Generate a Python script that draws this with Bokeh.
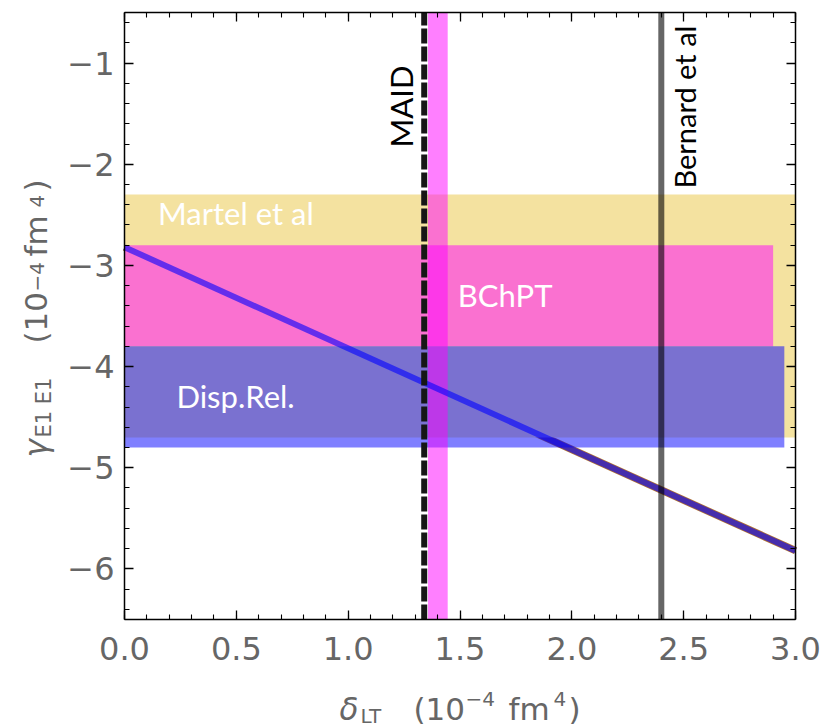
import math
from bokeh.plotting import figure
from bokeh.models import (Label, LinearAxis, SingleIntervalTicker,
                          NumeralTickFormatter, CustomJSTickFormatter)
from bokeh.embed import file_html
from bokeh.resources import INLINE

# ---------------- data ----------------
x_lo, x_hi = 0.0, 3.0
y_lo, y_hi = -6.5, -0.5

band_names = ["Martel et al", "BChPT", "Disp.Rel."]
band_left = [0.0, 0.0, 0.0]
band_right = [3.0, 2.9, 2.95]
band_bottom = [-4.7, -3.8, -4.8]
band_top = [-2.3, -2.8, -3.8]
band_colors = ["#F4E2A0", "#FF00FF", "#0000FF"]
band_alphas = [1.0, 0.5, 0.5]

maid_value = 1.34
maid_band_lo = 1.357
maid_band_hi = 1.445
bernard_value = 2.40

line_x = [0.0, 3.0]
line_y = [-2.82, -5.82]

# ---------------- layout geometry (canvas pixels) ----------------
W, H = 827, 728
BOX_L, BOX_R, BOX_T, BOX_B = 124, 795, 12, 619
sx_per = (x_hi - x_lo) / (BOX_R - BOX_L)
sy_per = (y_hi - y_lo) / (BOX_B - BOX_T)
xr = (x_lo - BOX_L * sx_per, x_hi + (W - BOX_R) * sx_per)
yr = (y_lo - (H - BOX_B) * sy_per, y_hi + BOX_T * sy_per)

p = figure(width=W, height=H, x_range=xr, y_range=yr, title=None,
           output_backend="svg", toolbar_location=None,
           min_border=0, min_border_left=0, min_border_right=0,
           min_border_top=0, min_border_bottom=0,
           background_fill_color="white", border_fill_color="white")
p.grid.visible = False
p.outline_line_color = None

tick_font = "DejaVu Sans"
tick_color = "#666666"

def style_axis(ax, labels=True):
    ax.axis_line_color = "black"
    ax.axis_line_width = 1.5
    ax.major_tick_in = 9
    ax.major_tick_out = 0
    ax.minor_tick_in = 5
    ax.minor_tick_out = 0
    ax.major_tick_line_color = "black"
    ax.minor_tick_line_color = "black"
    ax.major_tick_line_width = 1.3
    ax.minor_tick_line_width = 1.1
    if labels:
        ax.major_label_text_font = tick_font
        ax.major_label_text_font_size = "32px"
        ax.major_label_text_color = tick_color
    else:
        ax.formatter = CustomJSTickFormatter(code="return '';")
        ax.major_label_text_font_size = "2px"
        ax.major_label_standoff = 0

xax = p.xaxis[0]
yax = p.yaxis[0]
xax.ticker = SingleIntervalTicker(interval=0.5, num_minor_ticks=5)
yax.ticker = SingleIntervalTicker(interval=1.0, num_minor_ticks=5)
xax.formatter = NumeralTickFormatter(format="0.0")
yax.formatter = CustomJSTickFormatter(
    code="return tick < 0 ? '\u2212' + Math.abs(tick).toFixed(0) : tick.toFixed(0);")
style_axis(xax)
style_axis(yax)
xax.major_label_standoff = 17
yax.major_label_standoff = 10
xax.fixed_location = y_lo
xax.bounds = (x_lo, x_hi)
yax.fixed_location = x_lo
yax.bounds = (y_lo, y_hi)

top_ax = LinearAxis(ticker=SingleIntervalTicker(interval=0.5, num_minor_ticks=5),
                    fixed_location=y_hi, bounds=(x_lo, x_hi))
style_axis(top_ax, labels=False)
p.add_layout(top_ax, "above")
right_ax = LinearAxis(ticker=SingleIntervalTicker(interval=1.0, num_minor_ticks=5),
                      fixed_location=x_hi, bounds=(y_lo, y_hi))
style_axis(right_ax, labels=False)
p.add_layout(right_ax, "right")

# ---------------- marks ----------------
# orange under-line (visible as thin edge)
p.line(line_x, line_y, line_color="#B07030", line_width=7.5)

for i in range(len(band_names)):
    p.quad(left=[band_left[i]], right=[band_right[i]],
           bottom=[band_bottom[i]], top=[band_top[i]],
           fill_color=band_colors[i], fill_alpha=band_alphas[i], line_alpha=0)

# MAID magenta band
p.quad(left=[maid_band_lo], right=[maid_band_hi], bottom=[y_lo], top=[y_hi],
       fill_color="#FF00FF", fill_alpha=0.5, line_alpha=0)

# main line
p.line(line_x, line_y, line_color="#0000FF", line_alpha=0.6, line_width=6)

# vertical reference lines
p.segment(x0=[maid_value], y0=[y_lo], x1=[maid_value], y1=[y_hi],
          line_color="#161616", line_width=6, line_dash="15 3")
p.segment(x0=[bernard_value], y0=[y_lo], x1=[bernard_value], y1=[y_hi],
          line_color="black", line_alpha=0.6, line_width=6)

# ---------------- text in plot ----------------
lab_font = "Lato"
p.add_layout(Label(x=0.15, y=-2.67, text=band_names[0], text_color="white",
                   text_font=lab_font, text_font_size="31px"))
p.add_layout(Label(x=1.49, y=-3.48, text=band_names[1], text_color="white",
                   text_font=lab_font, text_font_size="31px"))
p.add_layout(Label(x=0.232, y=-4.48, text=band_names[2], text_color="white",
                   text_font=lab_font, text_font_size="31px"))
p.add_layout(Label(x=1.322, y=-1.835, text="MAID", angle=math.pi / 2,
                   text_color="black", text_font=lab_font, text_font_size="31px"))
p.add_layout(Label(x=2.58, y=-2.24, text="Bernard et al", angle=math.pi / 2,
                   text_color="black", text_font=lab_font, text_font_size="29px"))

# ---------------- axis titles (composed) ----------------
# frame covers the whole canvas: screen units from canvas bottom-left.
# (px, py) = canvas pixel of the text box's bottom-left corner
def piece(txt, px, py, size, italic=False, angle=0.0):
    p.add_layout(Label(x=px, y=H - py, x_units="screen", y_units="screen",
                       text=txt, angle=angle, text_font=tick_font,
                       text_font_size=size, text_color=tick_color,
                       text_font_style="italic" if italic else "normal",
                       text_baseline="bottom", text_align="left"))

# x title: delta_LT (10^-4 fm^4)
piece("\u03b4", 339, 726, "31px", italic=True)
piece("LT", 360, 727, "20px")
piece("(10", 413, 726, "31px")
piece("\u22124", 465, 705, "20px")
piece("fm", 508, 726, "31px")
piece("4", 553, 705, "20px")
piece(")", 568, 726, "31px")

# y title: gamma_E1E1 (10^-4 fm^4), reading upwards
a = math.pi / 2
piece("\u03b3", 53, 457, "31px", italic=True, angle=a)
piece("E1 E1", 55, 437, "21px", angle=a)
piece("(10", 53, 343, "31px", angle=a)
piece("\u22124", 43, 291, "20px", angle=a)
piece("fm", 53, 256, "31px", angle=a)
piece("4", 43, 207, "20px", angle=a)
piece(")", 53, 191, "31px", angle=a)

open("out.html", "w").write(file_html(p, INLINE))
